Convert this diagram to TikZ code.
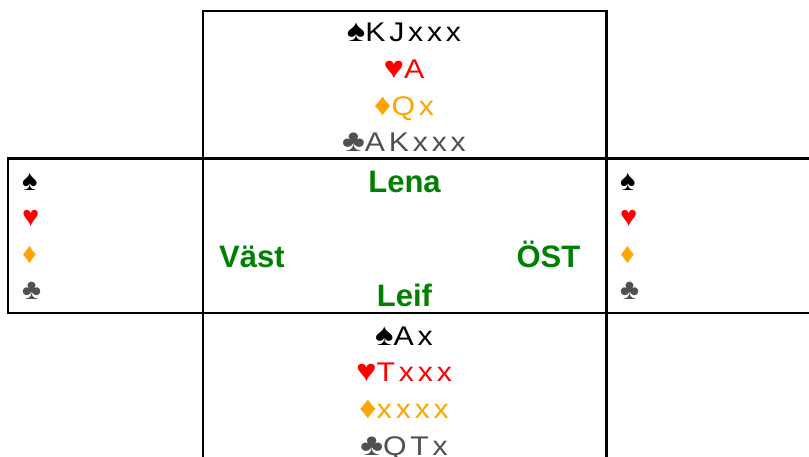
\documentclass[tikz,border=0pt]{standalone}
\usepackage{fontspec}
\setmainfont{Liberation Sans}
\newfontfamily\spacedfont[LetterSpace=14,FakeStretch=1.12]{Liberation Sans}
\definecolor{suitred}{HTML}{FF0000}
\definecolor{suitorange}{HTML}{FFA500}
\definecolor{suitgray}{HTML}{505050}
\definecolor{namegreen}{HTML}{008000}
\newcommand{\bigsuit}[1]{{\fontsize{31}{32}\selectfont #1}}
\tikzset{
  boxline/.style={line width=2.4pt, line cap=rect},
  handrow/.style={inner sep=0pt, anchor=base, font=\spacedfont\fontsize{27}{30}\selectfont},
  suitmark/.style={inner sep=0pt, anchor=base west, font=\fontsize{29}{30}\selectfont},
  player/.style={inner sep=0pt, font=\bfseries\fontsize{31}{36}\selectfont, text=namegreen},
}
\begin{document}
\begin{tikzpicture}[x=1pt,y=-1pt]
\useasboundingbox (0,0) rectangle (809,456);
% grid lines
\coordinate (tl) at (203,11);
\coordinate (tr) at (606.5,11);
\coordinate (ml) at (8,158.5);
\coordinate (mr) at (809,158.5);
\coordinate (bl) at (8,313);
\coordinate (br) at (809,313);
\coordinate (cl) at (203,470);
\coordinate (cr) at (606.5,470);
\draw[boxline] (tl) -- (tr);
\draw[boxline] (tl) -- (cl);
\draw[boxline] (tr) -- (cr);
\draw[boxline] (ml) -- (mr);
\draw[boxline] (bl) -- (br);
\draw[boxline] (ml) -- (bl);
% North hand
\node[handrow] (n1) at (404,41) {\bigsuit{♠}KJxxx};
\node[handrow, text=suitred] (n2) at (404,78) {\bigsuit{♥}A};
\node[handrow, text=suitorange] (n3) at (404,115) {\bigsuit{♦}Qx};
\node[handrow, text=suitgray] (n4) at (404,151.8) {\bigsuit{♣}AKxxx};
% South hand
\node[handrow] (s1) at (404,345) {\bigsuit{♠}Ax};
\node[handrow, text=suitred] (s2) at (404,381.7) {\bigsuit{♥}Txxx};
\node[handrow, text=suitorange] (s3) at (404,418.3) {\bigsuit{♦}xxxx};
\node[handrow, text=suitgray] (s4) at (404,455) {\bigsuit{♣}QTx};
% West suits
\node[suitmark] (w1) at (22,190) {♠};
\node[suitmark, text=suitred] (w2) at (22,226.5) {♥};
\node[suitmark, text=suitorange] (w3) at (22,263) {♦};
\node[suitmark, text=suitgray] (w4) at (22,299.5) {♣};
% East suits
\node[suitmark] (e1) at (620,190) {♠};
\node[suitmark, text=suitred] (e2) at (620,226.5) {♥};
\node[suitmark, text=suitorange] (e3) at (620,263) {♦};
\node[suitmark, text=suitgray] (e4) at (620,299.5) {♣};
% Players
\node[player, anchor=base] (lena) at (404.5,192) {Lena};
\node[player, anchor=base] (leif) at (404.5,306.5) {Leif};
\node[player, anchor=base west] (vast) at (219,267) {Väst};
\node[player, anchor=base east] (ost) at (580.5,267) {ÖST};
\end{tikzpicture}
\end{document}
